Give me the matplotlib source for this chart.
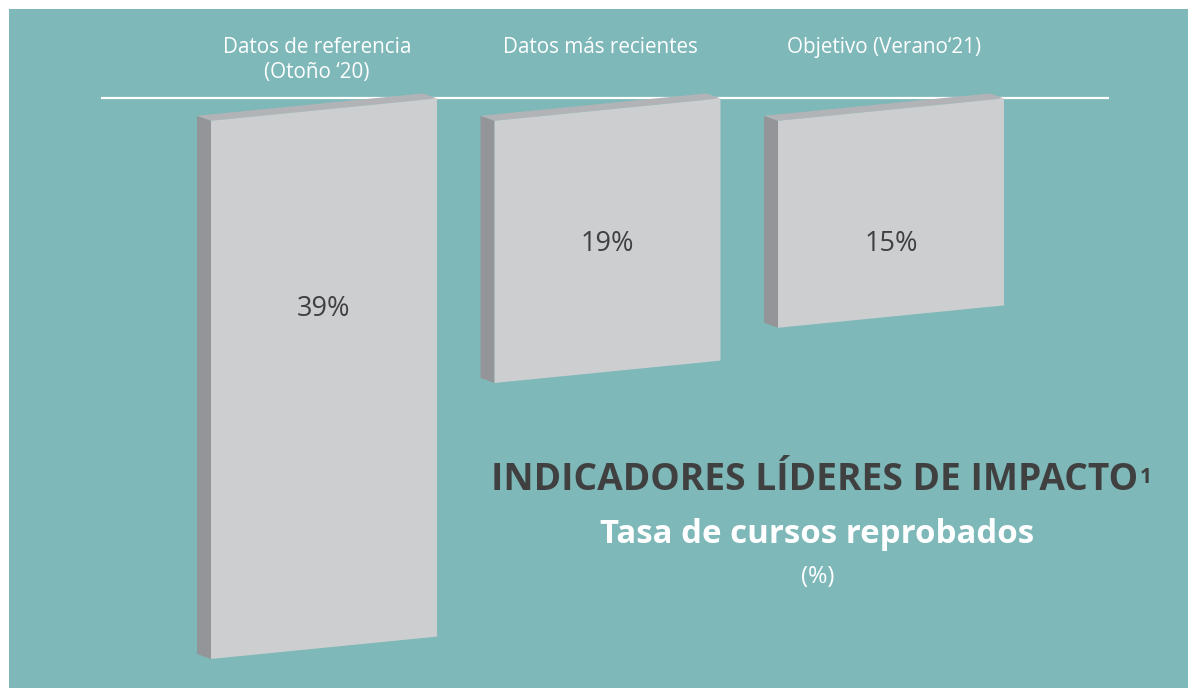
import matplotlib
matplotlib.use("Agg")
import matplotlib.pyplot as plt
from matplotlib.patches import Polygon

# ---- data ----
categories = ["Datos de referencia\n(Otoño ‘20)", "Datos más recientes", "Objetivo (Verano‘21)"]
values = [39, 19, 15]
value_labels = ["39%", "19%", "15%"]
title = "INDICADORES LÍDERES DE IMPACTO"
subtitle = "Tasa de cursos reprobados"
unit = "(%)"

# ---- style ----
TEAL = "#7eb8b9"
FRONT = "#cdced0"
SIDE = "#939598"
TOP = "#b1b3b6"
DARK = "#404041"
FONT = "Open Sans"

W, H, DPI = 1188, 688, 100
fig = plt.figure(figsize=(W / DPI, H / DPI), dpi=DPI, facecolor="white")
ax = fig.add_axes([9 / W, 0, (W - 9) / W, (H - 9) / H])
ax.set_facecolor(TEAL)
for s in ax.spines.values():
    s.set_visible(False)
ax.set_xticks([])
ax.set_yticks([])
ax.set_xlim(-1.1111, 3.0476)
ax.set_ylim(42.754, -6.449)

# baseline line
ax.plot([-0.787, 2.769], [0, 0], color="white", lw=1.6, zorder=1, solid_capstyle="butt")

bw = 0.797        # front face width
top_off = 1.65    # front top-left below the line
slant = 1.62      # rise of top edge across the width
dx, dy = -0.0494, -0.362   # depth offset

label_y = [15.3, 10.6, 10.6]

for i, (cat, v, lab) in enumerate(zip(categories, values, value_labels)):
    xl, xr = i - bw / 2, i + bw / 2
    tl, tr = top_off, top_off - slant
    bl, br = tl + v, tr + v
    front = Polygon([(xl, tl), (xr, tr), (xr, br), (xl, bl)], closed=True,
                    facecolor=FRONT, edgecolor="none", zorder=3)
    side = Polygon([(xl, tl), (xl, bl), (xl + dx, bl + dy), (xl + dx, tl + dy)], closed=True,
                   facecolor=SIDE, edgecolor="none", zorder=3)
    topf = Polygon([(xl, tl), (xr, tr), (xr + dx, tr + dy), (xl + dx, tl + dy)], closed=True,
                   facecolor=TOP, edgecolor="none", zorder=3)
    for p in (side, topf, front):
        ax.add_patch(p)
    ax.text(i, label_y[i], lab, ha="center", va="center", fontsize=19.5,
            color=DARK, family=FONT, zorder=4)
    ax.text(i + dx / 2, -4.45, cat, ha="center", va="top", fontsize=14.9,
            color="white", family=FONT, linespacing=1.25, zorder=4)

# titles
tx = 1.73
t = ax.text(tx, 27.7, title, ha="center", va="center", fontsize=26.7, fontweight="bold",
            color=DARK, family=FONT, zorder=4)
ax.text(tx + 0.01, 31.65, subtitle, ha="center", va="center", fontsize=23.8, fontweight="bold",
        color="white", family=FONT, zorder=4)
ax.text(tx + 0.01, 34.7, unit, ha="center", va="center", fontsize=17,
        color="white", family=FONT, zorder=4)

fig.canvas.draw()
r = fig.canvas.get_renderer()
bb = t.get_window_extent(r)
inv = ax.transData.inverted()
x1, y1 = inv.transform((bb.x1, bb.y1))
ax.text(x1 + 0.005, y1 + 0.4, "1", ha="left", va="top", fontsize=15, fontweight="bold",
        color=DARK, family=FONT, zorder=4)

fig.savefig("out.png", dpi=DPI, facecolor="white")
